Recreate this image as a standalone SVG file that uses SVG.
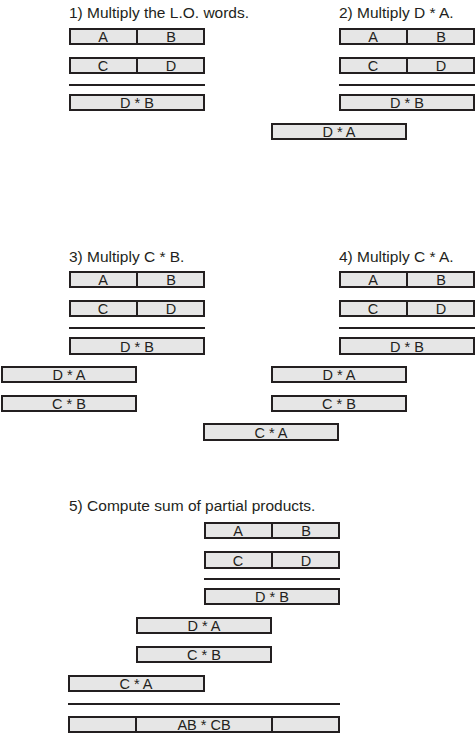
<svg xmlns="http://www.w3.org/2000/svg" width="475" height="734" viewBox="0 0 475 734">
<style>
.box{fill:#e6e6e6;stroke:#231f20;stroke-width:2}
.div{stroke:#231f20;stroke-width:2}
.rule{stroke:#231f20;stroke-width:2}
.lbl{font-family:"Liberation Sans",Arial,sans-serif;font-size:14.5px;text-anchor:middle;fill:#231f20}
.ttl{font-family:"Liberation Sans",Arial,sans-serif;font-size:15.5px;fill:#231f20}
</style>
<rect width="475" height="734" fill="#ffffff"/>

<g id="titles">
<text class="ttl" x="69" y="17.5">1) Multiply the L.O. words.</text>
<text class="ttl" x="339" y="17.5">2) Multiply D * A.</text>
<text class="ttl" x="69" y="261.5">3) Multiply C * B.</text>
<text class="ttl" x="339" y="261.5">4) Multiply C * A.</text>
<text class="ttl" x="69" y="511">5) Compute sum of partial products.</text>
</g>

<g id="connectors">
<line class="rule" x1="69" y1="85" x2="205" y2="85"/>
<line class="rule" x1="339" y1="85" x2="475" y2="85"/>
<line class="rule" x1="69" y1="328" x2="205" y2="328"/>
<line class="rule" x1="339" y1="328" x2="475" y2="328"/>
<line class="rule" x1="204" y1="579" x2="340" y2="579"/>
<line class="rule" x1="68" y1="704" x2="340" y2="704"/>
</g>

<!-- Panel 1 -->
<g id="p1-ab"><rect class="box" x="70" y="29" width="134" height="15"/><line class="div" x1="137" y1="29" x2="137" y2="44"/><text class="lbl" x="103" y="42">A</text><text class="lbl" x="171" y="42">B</text></g>
<g id="p1-cd"><rect class="box" x="70" y="58" width="134" height="15"/><line class="div" x1="137" y1="58" x2="137" y2="73"/><text class="lbl" x="103" y="71">C</text><text class="lbl" x="171" y="71">D</text></g>
<g id="p1-db"><rect class="box" x="70" y="95" width="134" height="15"/><text class="lbl" x="137" y="108">D * B</text></g>

<!-- Panel 2 -->
<g id="p2-ab"><rect class="box" x="340" y="29" width="134" height="15"/><line class="div" x1="407" y1="29" x2="407" y2="44"/><text class="lbl" x="373" y="42">A</text><text class="lbl" x="441" y="42">B</text></g>
<g id="p2-cd"><rect class="box" x="340" y="58" width="134" height="15"/><line class="div" x1="407" y1="58" x2="407" y2="73"/><text class="lbl" x="373" y="71">C</text><text class="lbl" x="441" y="71">D</text></g>
<g id="p2-db"><rect class="box" x="340" y="95" width="134" height="15"/><text class="lbl" x="407" y="108">D * B</text></g>
<g id="p2-da"><rect class="box" x="272" y="124" width="134" height="15"/><text class="lbl" x="339" y="137">D * A</text></g>

<!-- Panel 3 -->
<g id="p3-ab"><rect class="box" x="70" y="272" width="134" height="15"/><line class="div" x1="137" y1="272" x2="137" y2="287"/><text class="lbl" x="103" y="285">A</text><text class="lbl" x="171" y="285">B</text></g>
<g id="p3-cd"><rect class="box" x="70" y="301" width="134" height="15"/><line class="div" x1="137" y1="301" x2="137" y2="316"/><text class="lbl" x="103" y="314">C</text><text class="lbl" x="171" y="314">D</text></g>
<g id="p3-db"><rect class="box" x="70" y="338" width="134" height="16"/><text class="lbl" x="137" y="351.5">D * B</text></g>
<g id="p3-da"><rect class="box" x="2" y="367" width="134" height="15"/><text class="lbl" x="69" y="380">D * A</text></g>
<g id="p3-cb"><rect class="box" x="2" y="396" width="134" height="15"/><text class="lbl" x="69" y="409">C * B</text></g>

<!-- Panel 4 -->
<g id="p4-ab"><rect class="box" x="340" y="272" width="134" height="15"/><line class="div" x1="407" y1="272" x2="407" y2="287"/><text class="lbl" x="373" y="285">A</text><text class="lbl" x="441" y="285">B</text></g>
<g id="p4-cd"><rect class="box" x="340" y="301" width="134" height="15"/><line class="div" x1="407" y1="301" x2="407" y2="316"/><text class="lbl" x="373" y="314">C</text><text class="lbl" x="441" y="314">D</text></g>
<g id="p4-db"><rect class="box" x="340" y="338" width="134" height="16"/><text class="lbl" x="407" y="351.5">D * B</text></g>
<g id="p4-da"><rect class="box" x="272" y="367" width="134" height="15"/><text class="lbl" x="339" y="380">D * A</text></g>
<g id="p4-cb"><rect class="box" x="272" y="396" width="134" height="15"/><text class="lbl" x="339" y="409">C * B</text></g>
<g id="p4-ca"><rect class="box" x="204" y="424" width="134" height="16"/><text class="lbl" x="271" y="437.5">C * A</text></g>

<!-- Panel 5 -->
<g id="p5-ab"><rect class="box" x="205" y="523" width="134" height="15"/><line class="div" x1="272" y1="523" x2="272" y2="538"/><text class="lbl" x="238" y="536">A</text><text class="lbl" x="306" y="536">B</text></g>
<g id="p5-cd"><rect class="box" x="205" y="552" width="134" height="16"/><line class="div" x1="272" y1="552" x2="272" y2="568"/><text class="lbl" x="238" y="565.5">C</text><text class="lbl" x="306" y="565.5">D</text></g>
<g id="p5-db"><rect class="box" x="205" y="589" width="134" height="15"/><text class="lbl" x="272" y="602">D * B</text></g>
<g id="p5-da"><rect class="box" x="137" y="618" width="134" height="15"/><text class="lbl" x="204" y="631">D * A</text></g>
<g id="p5-cb"><rect class="box" x="137" y="647" width="134" height="15"/><text class="lbl" x="204" y="660">C * B</text></g>
<g id="p5-ca"><rect class="box" x="69" y="676" width="135" height="15"/><text class="lbl" x="136" y="689">C * A</text></g>
<g id="p5-sum"><rect class="box" x="69" y="717" width="270" height="15"/><line class="div" x1="136" y1="717" x2="136" y2="732"/><line class="div" x1="272" y1="717" x2="272" y2="732"/><text class="lbl" x="204" y="730">AB * CB</text></g>
</svg>
